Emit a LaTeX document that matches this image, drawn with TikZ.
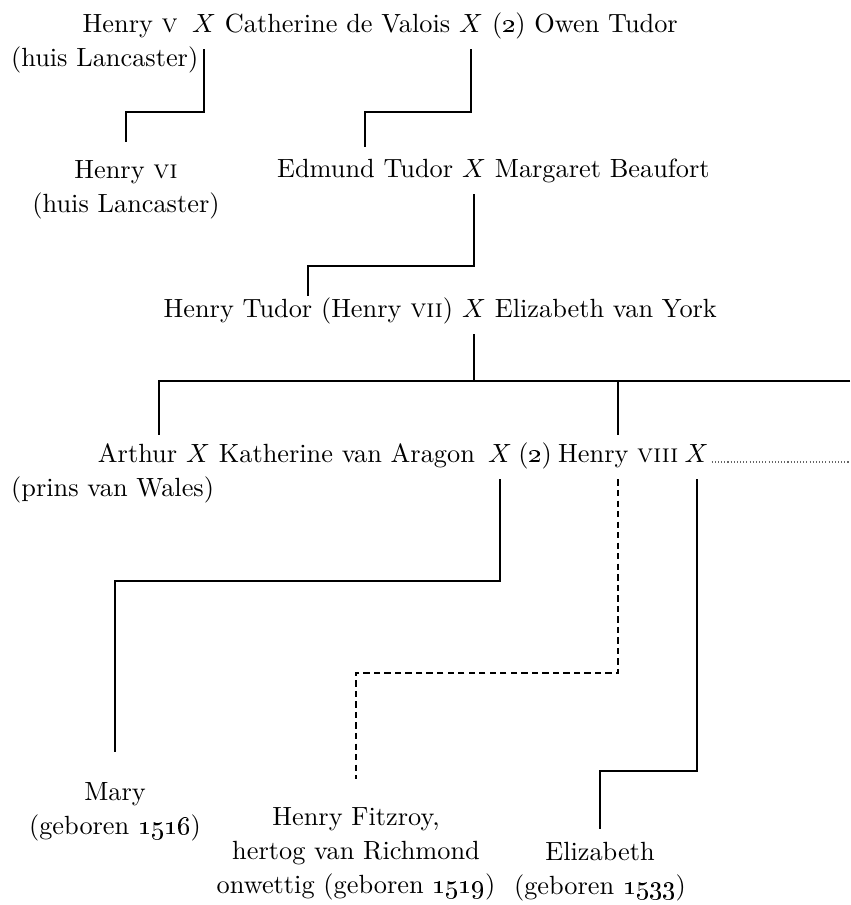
\documentclass[tikz,border=0pt]{standalone}
\usetikzlibrary{positioning}

\begin{document}
\begin{tikzpicture}[
        x=0.38pt, y=-0.38pt, % eenheden als pixels, y naar beneden
        font=\fontsize{10}{13}\selectfont,
        every node/.style={inner sep=1pt},
        pers/.style={text height=1.6ex, text depth=.3ex}, % personen op een regel
        kind/.style={align=center}, % kinderen met extra regel
        lijn/.style={line width=0.8pt, shorten <=4pt},
        onwettig/.style={lijn, dash pattern=on 2.4pt off 1.6pt},
        stippel/.style={black!60, line width=0.5pt, dash pattern=on 0.4pt off 0.8pt},
    ]
    \useasboundingbox (0,0) rectangle (850,905);

    % eerste generatie
    \node[pers] (x1) at (204,25) {$X$};
    \node[pers, left=3pt of x1] (hv) {Henry \textsc{v}};
    \node[pers, right=1pt of x1] (cat) {Catherine de Valois};
    \node[pers, right=1pt of cat] (x2) {$X$};
    \node[pers, right=1pt of x2] (owen) {(\oldstylenums{2}) Owen Tudor};
    \node[anchor=west] (hvnote) at (8,60) {(huis Lancaster)};

    % tweede generatie
    \node[kind] (h6) at (126,190) {Henry \textsc{vi}\\(huis Lancaster)};
    \node[pers] (x3) at (474,170) {$X$};
    \node[pers, left=1pt of x3] (edmund) {Edmund Tudor};
    \node[pers, right=1pt of x3] (margaret) {Margaret Beaufort};

    % derde generatie
    \node[pers] (x4) at (474,310) {$X$};
    \node[pers, left=1pt of x4] (h7) {Henry Tudor (Henry \textsc{vii})};
    \node[pers, right=1pt of x4] (eyork) {Elizabeth van York};

    % vierde generatie
    \node[pers] (x5) at (198,455) {$X$};
    \node[pers, left=1pt of x5] (arthur) {Arthur};
    \node[pers, right=1pt of x5] (kat) {Katherine van Aragon};
    \node[pers] (x6) at (500,455) {$X$};
    \node[pers, right=0pt of x6] (tweede) {(\oldstylenums{2})};
    \node[pers, right=0pt of tweede] (h8) {Henry \textsc{viii}};
    \node[pers, right=0pt of h8] (x7) {$X$};
    \node[anchor=west] (arthurnote) at (8,490) {(prins van Wales)};

    % kinderen van Henry viii
    \node[kind] (mary) at (115,812) {Mary\\(geboren \oldstylenums{1516})};
    \node[kind] (fitz) at (356,854) {Henry Fitzroy,\\hertog van Richmond\\onwettig (geboren \oldstylenums{1519})};
    \node[kind] (eliz) at (600,872) {Elizabeth\\(geboren \oldstylenums{1533})};

    \coordinate (barR) at (850,381);
    \coordinate (dotR) at (850,462);

    % verbindingen
    \draw[lijn, shorten >=5.7pt] (x1.south) -- ++(0,73) -| (h6.north);
    \draw[lijn, shorten >=3.4pt] (x2.south) -- ++(0,73) -| (edmund.north);
    \draw[lijn] (x3.south) -- ++(0,82) -| (h7.north);
    \draw[lijn] (x4.south) -- (x4.south |- barR);
    \draw[lijn, shorten <=0pt, shorten >=2.3pt] (barR) -| ([xshift=8pt]arthur.north);
    \draw[lijn, shorten <=0pt, shorten >=2.3pt] (h8.north |- barR) -- (h8.north);
    \draw[lijn, shorten >=10.6pt] (x6.south) -- ++(0,112) -| (mary.north);
    \draw[onwettig, shorten >=9.5pt] (h8.south) -- ++(0,204) -| (fitz.north);
    \draw[lijn, shorten >=3.8pt] (x7.south) -- ++(0,302) -| (eliz.north);
    \draw[stippel] (x7.east |- dotR) -- (dotR);
\end{tikzpicture}
\end{document}
